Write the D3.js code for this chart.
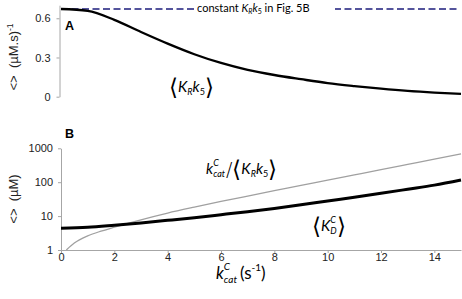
<!DOCTYPE html>
<html>
<head>
<meta charset="utf-8">
<script src="https://cdn.jsdelivr.net/npm/d3@7"></script>
<style>
  html, body { margin: 0; padding: 0; background: #fff; }
  svg { display: block; }
  text { white-space: pre; }
</style>
</head>
<body>
<svg id="chart" width="462" height="299"></svg>
<script>
// k_cat^C values (s^-1) shared by panel A and the K_D curve
const kcat = [0, 1, 2, 3, 4, 5, 6, 7, 8, 9, 10, 11, 12, 13, 14, 15];
// panel A: <K_R k_5> in (uM.s)^-1
const krk5 = [0.671, 0.656, 0.588, 0.495, 0.406, 0.325, 0.258, 0.205, 0.166, 0.134, 0.104, 0.081, 0.061, 0.044, 0.031, 0.021];
const krk5Const = 0.67;
// panel B: <K_D^C> in uM
const kd = [4.4, 4.7, 5.4, 6.3, 7.5, 9.0, 11.0, 13.5, 16.8, 21.5, 28, 36, 47, 62, 82, 116];
// panel B: k_cat / <K_R k_5>
const ratioK = [0.2, 0.5, 1, 1.5, 2, 3, 4, 5, 6, 7, 8, 9, 10, 11, 12, 13, 14, 15];
const ratio = [1.0, 1.6, 2.6, 3.6, 4.7, 7.8, 12.3, 18.4, 27, 39, 56, 80, 115, 164, 234, 335, 480, 685];

const ticksA = [0, 0.3, 0.6];
const ticksB = [1, 10, 100, 1000];
const ticksX = [0, 2, 4, 6, 8, 10, 12, 14];

const svg = d3.select("#chart");
const axisColor = "#a6a6a6";
const tickFont = "'Liberation Sans', Arial, sans-serif";
const annFont = "Lato, 'Open Sans', sans-serif";
const brFont = "'DejaVu Sans', sans-serif";

const x = d3.scaleLinear().domain([0, 15]).range([61, 461]);
const yA = d3.scaleLinear().domain([0, 0.7]).range([96.7, 5.2]);
const yB = d3.scaleLog().domain([1, 1000]).range([250, 148.3]);

function styleAxis(g) {
  g.select(".domain").attr("stroke", axisColor);
  g.selectAll(".tick line").attr("stroke", axisColor);
  g.selectAll(".tick text")
    .attr("font-family", tickFont)
    .attr("font-size", 11)
    .attr("fill", "#222");
}

// lays out pieces of text one after another, with sub/superscripts
function richText(parent, x0, y0, parts) {
  const g = parent.append("g").attr("transform", `translate(${x0},${y0})`);
  let cx = 0;
  let lastStart = 0;
  parts.forEach((p) => {
    const px = (p.stack ? lastStart : cx) + (p.dx || 0);
    const t = g.append("text")
      .attr("x", px)
      .attr("y", p.dy || 0)
      .attr("font-family", p.font || annFont)
      .attr("font-size", p.size)
      .attr("font-style", p.italic ? "italic" : "normal")
      .attr("font-weight", p.weight || "normal")
      .attr("fill", "#000")
      .text(p.t);
    const w = t.node().getComputedTextLength();
    lastStart = px;
    cx = Math.max(cx, px + w + (p.gap || 0));
  });
  return g;
}

const br = (t) => ({ t, size: 23, font: brFont, weight: 200, dy: 2.5 });

// ---------- panel A ----------
svg.append("g")
  .attr("transform", `translate(${x(0) - 1.5},0)`)
  .call(d3.axisLeft(yA).tickValues(ticksA).tickFormat(d3.format("")).tickSize(3).tickSizeOuter(0).tickPadding(6))
  .call(styleAxis);

svg.append("line")
  .attr("x1", x(0)).attr("x2", x(15) - 3)
  .attr("y1", yA(krk5Const)).attr("y2", yA(krk5Const))
  .attr("stroke", "#1c1c7c")
  .attr("stroke-width", 1.5)
  .attr("stroke-dasharray", "7,3.5");

svg.append("rect")
  .attr("x", 195).attr("y", 0).attr("width", 140).attr("height", 14)
  .attr("fill", "#fff");

richText(svg, 197, 11.5, [
  { t: "constant\u00a0", size: 11 },
  { t: "K", size: 11, italic: true },
  { t: "R", size: 7, italic: true, dy: 2.5 },
  { t: "k", size: 11, italic: true },
  { t: "5", size: 7, dy: 2.5 },
  { t: "\u00a0in Fig. 5B", size: 11 }
]);

const lineA = d3.line()
  .x((d, i) => x(kcat[i]))
  .y((d) => yA(d))
  .curve(d3.curveMonotoneX);

svg.append("path")
  .datum(krk5)
  .attr("fill", "none")
  .attr("stroke", "#000")
  .attr("stroke-width", 2.3)
  .attr("d", lineA);

svg.append("text")
  .attr("x", 65).attr("y", 29.5)
  .attr("font-family", tickFont).attr("font-weight", "bold").attr("font-size", 12.5)
  .text("A");

richText(svg, 169, 92, [
  br("⟨"),
  { t: "K", size: 15, italic: true },
  { t: "R", size: 9, italic: true, dy: 3 },
  { t: "k", size: 15, italic: true },
  { t: "5", size: 9, dy: 3 },
  br("⟩")
]);

const labA = svg.append("text")
  .attr("transform", "translate(18,57) rotate(-90)")
  .attr("text-anchor", "middle")
  .attr("font-family", tickFont)
  .attr("font-size", 13)
  .attr("fill", "#222");
labA.append("tspan").text("<>\u00a0\u00a0(µM.s)");
labA.append("tspan").attr("font-size", 8.5).attr("dy", -5).text("-1");

// ---------- panel B ----------
svg.append("g")
  .attr("transform", `translate(${x(0)},0)`)
  .call(d3.axisLeft(yB).tickValues(ticksB).tickFormat(d3.format("")).tickSize(3).tickSizeOuter(0).tickPadding(5))
  .call(styleAxis);

svg.append("g")
  .attr("transform", `translate(0,${yB(1)})`)
  .call(d3.axisBottom(x).tickValues(ticksX).tickSize(3).tickSizeOuter(0).tickPadding(0))
  .call(styleAxis);

const lineB = d3.line()
  .x((d) => x(d[0]))
  .y((d) => yB(d[1]))
  .curve(d3.curveMonotoneX);

svg.append("path")
  .datum(ratioK.map((k, i) => [k, ratio[i]]))
  .attr("fill", "none")
  .attr("stroke", "#a0a0a0")
  .attr("stroke-width", 1.3)
  .attr("d", lineB);

svg.append("path")
  .datum(kcat.map((k, i) => [k, kd[i]]))
  .attr("fill", "none")
  .attr("stroke", "#000")
  .attr("stroke-width", 3)
  .attr("d", lineB);

svg.append("text")
  .attr("x", 65).attr("y", 138)
  .attr("font-family", tickFont).attr("font-weight", "bold").attr("font-size", 12.5)
  .text("B");

richText(svg, 206, 174, [
  { t: "k", size: 15, italic: true },
  { t: "C", size: 9, italic: true, dy: -8 },
  { t: "cat", size: 9, italic: true, dy: 3, stack: true, gap: 1 },
  { t: "/", size: 19, font: brFont, weight: 200, dy: 2 },
  br("⟨"),
  { t: "K", size: 15, italic: true },
  { t: "R", size: 9, italic: true, dy: 3 },
  { t: "k", size: 15, italic: true },
  { t: "5", size: 9, dy: 3 },
  br("⟩")
]);

richText(svg, 312, 231, [
  br("⟨"),
  { t: "K", size: 15, italic: true },
  { t: "C", size: 9, italic: true, dy: -8 },
  { t: "D", size: 9, italic: true, dy: 3, stack: true },
  br("⟩")
]);

const labB = svg.append("text")
  .attr("transform", "translate(18,199) rotate(-90)")
  .attr("text-anchor", "middle")
  .attr("font-family", tickFont)
  .attr("font-size", 13)
  .attr("fill", "#222");
labB.append("tspan").text("<>\u00a0\u00a0(µM)");

// x axis title
richText(svg, 216, 279, [
  { t: "k", size: 16.5, italic: true },
  { t: "C", size: 10, italic: true, dy: -9 },
  { t: "cat", size: 10, italic: true, dy: 4, stack: true, gap: 3 },
  { t: "(s", size: 17 },
  { t: "-1", size: 10, dy: -8 },
  { t: ")", size: 17 }
]);
</script>
</body>
</html>
